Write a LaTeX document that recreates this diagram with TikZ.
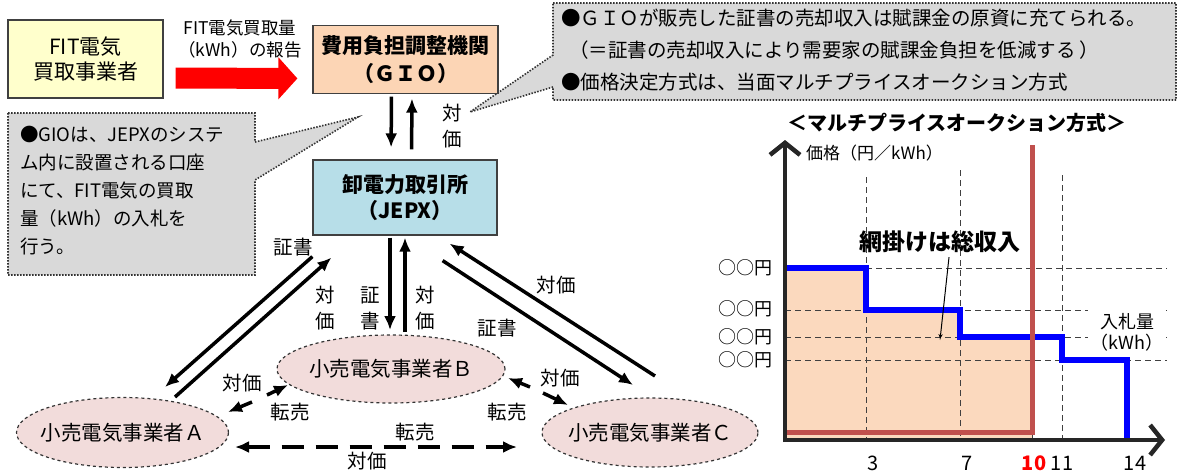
\documentclass[tikz,border=0pt]{standalone}
\usepackage{fontspec}
\setmainfont{Noto Sans CJK JP}
\usepackage{tikz}
\usetikzlibrary{arrows,arrows.meta,shapes.geometric}

\definecolor{fityellow}{HTML}{FFFFCC}
\definecolor{giopeach}{HTML}{FCD5B5}
\definecolor{jepxblue}{HTML}{B7DEE8}
\definecolor{retailpink}{HTML}{F2DCDB}
\definecolor{notegray}{HTML}{D9D9D9}
\definecolor{totalfill}{HTML}{FBD9BE}
\definecolor{clearred}{HTML}{C0504D}

\begin{document}
\begin{tikzpicture}[x=1pt,y=-1pt]
        \tikzset{box/.style = {draw=black!75, line width=1.2pt, inner sep=0pt, align=center}}
        \tikzset{retailer/.style = {shape=ellipse, draw=black!80, dashed, line width=1.2pt, fill=retailpink, inner ysep=0pt, inner xsep=-10pt, minimum width=212pt, minimum height=70pt, font=\fontsize{20.5}{24}\selectfont}}
        \tikzset{callout/.style = {draw=black!80, dash pattern=on 1.5pt off 1.5pt, line width=1.6pt, fill=notegray}}
        \tikzset{flow/.style = {->,> = {Latex[length=14pt,width=12pt]}, line width=3.5pt}}
        \tikzset{lbl/.style = {inner sep=0pt, align=center, font=\fontsize{19.5}{26}\selectfont}}
        \tikzset{report/.style = {draw=red, line width=21pt, -{Triangle[length=19pt,width=41pt]}, shorten <=12pt, shorten >=15pt}}
        \tikzset{grid/.style = {draw=black!75, dash pattern=on 6pt off 4pt, line width=1pt}}
        \tikzset{axis/.style = {draw=black!85, line width=4.5pt, -{Straight Barb[length=12pt,width=30pt]}}}
        \fill[white] (0,0) rectangle (1183,472);
        \useasboundingbox (0,0) rectangle (1183,472);
        % notes
        \draw[callout] (553,3) -- (1176,3) -- (1176,100) -- (553,100) -- (553,87) -- (470,112) -- (553,55) -- cycle;
        \draw[callout] (8,113) -- (255,113) -- (255,142) -- (358,117) -- (255,180) -- (255,275) -- (8,275) -- cycle;
        \node[anchor=west, align=left, inner sep=0pt, font=\fontsize{19.5}{32}\selectfont] (salenote) at (561,50) {●ＧＩＯが販売した証書の売却収入は賦課金の原資に充てられる。\\\hspace*{0.4em}（＝証書の売却収入により需要家の賦課金負担を低減する ）\\●価格決定方式は、当面マルチプライスオークション方式};
        \node[anchor=west, align=left, inner sep=0pt, font=\fontsize{18.5}{28}\selectfont] (gionote) at (20,191) {●GIOは、JEPXのシステ\\ム内に設置される口座\\にて、FIT電気の買取\\量（kWh）の入札を\\行う。};
        % vertices
        \node[box, fill=fityellow, minimum width=155pt, minimum height=78pt, font=\fontsize{21}{25}\selectfont] (fit) at (85.5,59) {FIT電気\\買取事業者};
        \node[box, fill=giopeach, minimum width=185pt, minimum height=68pt, font=\bfseries\fontsize{21}{28}\selectfont] (gio) at (405.5,59.5) {費用負担調整機関\\（ＧＩＯ）};
        \node[box, fill=jepxblue, minimum width=184pt, minimum height=75pt, font=\bfseries\fontsize{21}{26}\selectfont] (jepx) at (405,197.5) {卸電力取引所\\（JEPX）};
        \node[retailer] (retailerA) at (122.5,432.5) {小売電気事業者Ａ};
        \node[retailer, minimum width=228pt, minimum height=68pt] (retailerB) at (391,369) {小売電気事業者Ｂ};
        \node[retailer, minimum width=216pt, minimum height=69pt] (retailerC) at (650,432.5) {小売電気事業者Ｃ};
        % labels
        \node[inner sep=0pt, align=center, font=\fontsize{17.5}{22}\selectfont] (reportlbl) at (240,39) {FIT電気買取量\\（kWh）の報告};
        \node[lbl] (giopay) at (452,126) {対\\価};
        \node[lbl] (certA) at (293,247) {証書};
        \node[lbl] (payA) at (325,308) {対\\価};
        \node[lbl] (certB) at (370,308) {証\\書};
        \node[lbl] (payB) at (425,308) {対\\価};
        \node[lbl] (payC) at (556,285) {対価};
        \node[lbl] (certC) at (497,328) {証書};
        \node[lbl] (payAB) at (242,383) {対価};
        \node[lbl] (resaleAB) at (290,412) {転売};
        \node[lbl] (payBC) at (560,378) {対価};
        \node[lbl] (resaleBC) at (507,412) {転売};
        \node[lbl] (resaleAC) at (415,432) {転売};
        \node[lbl] (payAC) at (367,461) {対価};
        %edges
        \draw[report] ([yshift=-19pt]fit.east) -- ([yshift=-19pt]gio.west);
        \draw[flow, shorten <=2.5pt, shorten >=12pt] ([xshift=-14pt]gio.south) -- ([xshift=-14pt]jepx.north);
        \draw[flow, shorten <=10pt, shorten >=4.5pt] ([xshift=6.5pt]jepx.north) -- ([xshift=6.5pt]gio.south);
        \draw[flow] ([shift={(0,21)}]jepx.south west) -- ([shift={(42.5,-45.5)}]retailerA.center);
        \draw[flow] ([shift={(52.5,-35.5)}]retailerA.center) -- ([shift={(19,22)}]jepx.south west);
        \draw[flow] ([shift={(-15,2)}]jepx.south) -- ([shift={(-1,-39)}]retailerB.center);
        \draw[flow] ([shift={(14,-37)}]retailerB.center) -- ([shift={(0,2)}]jepx.south);
        \draw[flow] ([shift={(-55,25)}]jepx.south east) -- ([shift={(-17,-47.5)}]retailerC.center);
        \draw[flow] ([shift={(5,-56.5)}]retailerC.center) -- ([shift={(-48,8)}]jepx.south east);
        \draw[flow] ([shift={(144.5,-37.5)}]retailerA.center) -- ([shift={(-103,16)}]retailerB.center);
        \draw[flow] ([shift={(-139,33)}]retailerB.center) -- ([shift={(105.5,-20.5)}]retailerA.center);
        \draw[flow] ([shift={(-120,-45.5)}]retailerC.center) -- ([shift={(117,9)}]retailerB.center);
        \draw[flow] ([shift={(152,24)}]retailerB.center) -- ([shift={(-82,-27.5)}]retailerC.center);
        \draw[flow, <->, dash pattern=on 22pt off 12pt] ([shift={(112.5,14.5)}]retailerA.center) -- ([shift={(-133,14.5)}]retailerC.center);
        % auction chart
        \fill[totalfill] (785,268) -- (866,268) -- (866,310) -- (960,310) -- (960,337) -- (1032,337) -- (1032,440) -- (785,440) -- cycle;
        \draw[grid] (866,177) -- (866,440);
        \draw[grid] (960,170) -- (960,440);
        \draw[grid] (1032,185) -- (1032,440);
        \draw[grid] (1062,175) -- (1062,440);
        \draw[grid] (866,268) -- (1167,268);
        \draw[grid] (785,310) -- (1167,310);
        \draw[grid] (785,337) -- (1167,337);
        \draw[grid] (785,360) -- (1167,360);
        \node[fill=white, inner sep=3pt, align=center, font=\fontsize{18}{21}\selectfont] (bidqty) at (1127,332) {入札量\\（kWh）};
        \draw[draw=blue, line width=6pt] (785,268) -- (866,268) -- (866,310) -- (960,310) -- (960,337) -- (1062,337) -- (1062,360) -- (1127,360) -- (1127,440);
        \draw[draw=clearred, line width=5pt] (1032,145) -- (1032,432) -- (787,432);
        \draw[axis] (785,442) -- (785,140);
        \draw[axis] (783,440) -- (1165,440);
        \node[inner sep=0pt, font=\bfseries\fontsize{20}{24}\selectfont] (charttitle) at (957,123) {＜マルチプライスオークション方式＞};
        \node[anchor=west, inner sep=0pt, font=\fontsize{17}{20}\selectfont] (pricelbl) at (806,153) {価格（円／kWh）};
        \node[inner sep=0pt, font=\bfseries\fontsize{23}{26}\selectfont] (total) at (940,242) {網掛けは総収入};
        \coordinate (fillpt) at (940,340);
        \draw[->, > = latex', line width=1pt] ([xshift=9pt,yshift=-4pt]total.south) -- (fillpt);
        \foreach \i/\y in {1/268,2/309,3/337,4/360}
          \node[anchor=east, inner sep=0pt, font=\fontsize{18}{20}\selectfont] (yen\i) at (773,\y) {○○円};
        \foreach \q/\x in {3/873,7/967,11/1062,14/1135}
          \node[inner sep=0pt, font=\fontsize{20}{22}\selectfont] (qty\q) at (\x,463) {\q};
        \node[inner sep=0pt, text=red, font=\bfseries\fontsize{20}{22}\selectfont] (qty10) at (1034,463) {10};
    \end{tikzpicture}
\end{document}
